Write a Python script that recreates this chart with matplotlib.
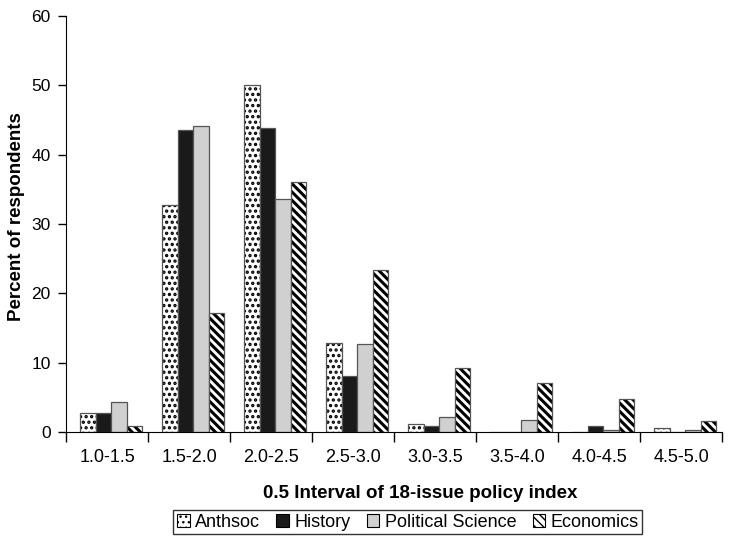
import numpy as np
import matplotlib.pyplot as plt
import matplotlib as mpl

plt.rcParams['font.family'] = ['Liberation Sans', 'DejaVu Sans']

groups = ['1.0-1.5', '1.5-2.0', '2.0-2.5', '2.5-3.0', '3.0-3.5', '3.5-4.0', '4.0-4.5', '4.5-5.0']
anthsoc = [2.7, 32.8, 50.0, 12.9, 1.2, 0.0, 0.0, 0.6]
history = [2.8, 43.5, 43.9, 8.1, 0.9, 0.0, 0.9, 0.0]
polsci = [4.4, 44.2, 33.6, 12.7, 2.2, 1.8, 0.3, 0.3]
econ = [0.8, 17.2, 36.0, 23.4, 9.3, 7.0, 4.7, 1.6]

series = [
    ('Anthsoc', anthsoc, 'white', '...', 1.6),
    ('History', history, '#1a1a1a', None, 1.0),
    ('Political Science', polsci, '#d0d0d0', None, 1.0),
    ('Economics', econ, 'white', '\\\\\\\\', 2.2),
]

fig = plt.figure(figsize=(7.43, 5.36), dpi=100)
ax = fig.add_axes([0.089, 0.194, 0.883, 0.776])

x = np.arange(len(groups))
w = 0.19
for i, (name, vals, col, hatch, hlw) in enumerate(series):
    plt.rcParams['hatch.linewidth'] = hlw
    pos = x + (i - 1.5) * w + 0.05
    # fill + black hatch, then a grey outline on top
    ax.bar(pos, vals, w, color=col, edgecolor='black', linewidth=0, hatch=hatch)
    ax.bar(pos, vals, w, fill=False, edgecolor='#555555', linewidth=0.9)
    # legend proxy
    ax.bar([0], [0], 0, color=col, edgecolor='black', linewidth=0.8, hatch=hatch, label=name)

ax.set_xlim(-0.5, len(groups) - 0.5)
ax.set_ylim(0, 60)
ax.set_yticks(range(0, 61, 10))
ax.set_xticks(x)
ax.set_xticklabels(groups)
ax.set_xticks(np.arange(-0.5, len(groups)), minor=True)
ax.tick_params(axis='x', which='major', length=0, labelsize=13, pad=12)
ax.tick_params(axis='x', which='minor', length=7, width=1)
ax.tick_params(axis='y', labelsize=12.5, length=6, width=1, pad=5)
ax.spines['top'].set_visible(False)
ax.spines['right'].set_visible(False)

ax.set_xlabel('0.5 Interval of 18-issue policy index', fontsize=13.5, fontweight='bold')
ax.xaxis.set_label_coords(0.54, -0.128)
ax.set_ylabel('Percent of respondents', fontsize=13.5, fontweight='bold')
ax.yaxis.set_label_coords(-0.063, 0.517)

plt.rcParams['hatch.linewidth'] = 1.0
leg = fig.legend(loc='lower center', bbox_to_anchor=(0.549, 0.0), ncol=4, fontsize=13,
                 frameon=True, fancybox=False, edgecolor='black', handlelength=0.7,
                 handleheight=0.7, handletextpad=0.3, columnspacing=0.9, borderpad=0.2,
                 borderaxespad=0.1)
leg.get_frame().set_linewidth(1.0)

fig.savefig('out.png', dpi=100)
